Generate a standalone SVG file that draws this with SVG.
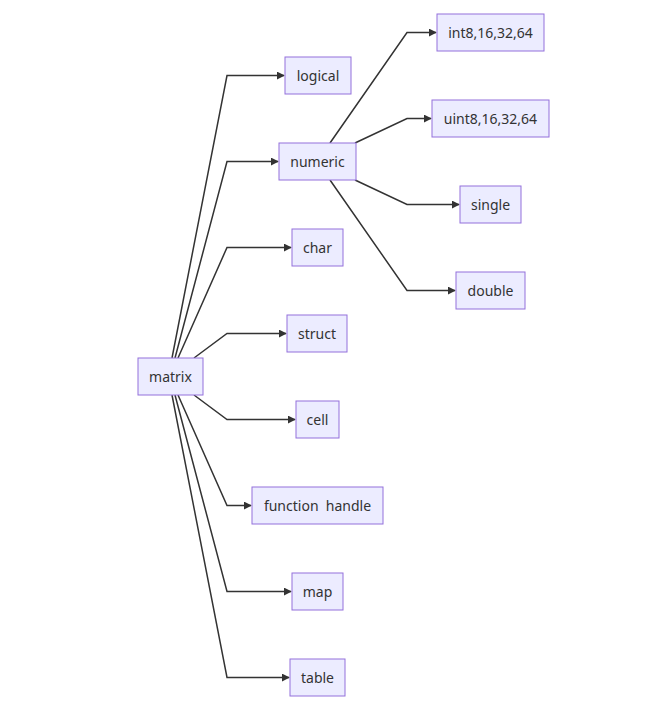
<svg xmlns="http://www.w3.org/2000/svg" width="652" height="708" viewBox="0 0 652 708">
<style>
.node rect{fill:#ECECFF;stroke:#9370DB;stroke-width:1}
.node text{font-family:"Noto Sans","Liberation Sans",sans-serif;font-size:14px;fill:#333;text-anchor:middle;dominant-baseline:central}
.edges path{fill:none;stroke:#333;stroke-width:1.5}
</style>
<defs>
<marker id="arr" viewBox="0 0 10 10" refX="9" refY="5" markerWidth="8" markerHeight="8" markerUnits="userSpaceOnUse" orient="auto">
<path d="M0,0 L10,5 L0,10 z" fill="#333"/>
</marker>
</defs>
<rect width="652" height="708" fill="#fff"/>
<g class="edges">
<path d="M172,358 L227,75.5 L284,75.5" marker-end="url(#arr)"/>
<path d="M175,358 L227,161.5 L278,161.5" marker-end="url(#arr)"/>
<path d="M178,358 L227,247.5 L291,247.5" marker-end="url(#arr)"/>
<path d="M194,358 L227,333.5 L286,333.5" marker-end="url(#arr)"/>
<path d="M194,395 L227,419.5 L295,419.5" marker-end="url(#arr)"/>
<path d="M178,395 L227,505.5 L251,505.5" marker-end="url(#arr)"/>
<path d="M175,395 L227,591.5 L291,591.5" marker-end="url(#arr)"/>
<path d="M172,395 L227,677.5 L289,677.5" marker-end="url(#arr)"/>
<path d="M330,143 L407,32.5 L436,32.5" marker-end="url(#arr)"/>
<path d="M355,143 L407,118.5 L431,118.5" marker-end="url(#arr)"/>
<path d="M355,180 L407,204.5 L459,204.5" marker-end="url(#arr)"/>
<path d="M330,180 L407,290.5 L455,290.5" marker-end="url(#arr)"/>
</g>
<g id="matrix" class="node"><rect x="138" y="358" width="65" height="37"/><text x="170.5" y="376.5">matrix</text></g>
<g id="logical" class="node"><rect x="285" y="57" width="66" height="37"/><text x="318" y="75.5">logical</text></g>
<g id="numeric" class="node"><rect x="279" y="143" width="77" height="37"/><text x="317.5" y="161.5">numeric</text></g>
<g id="char" class="node"><rect x="292" y="229" width="51" height="37"/><text x="317.5" y="247.5">char</text></g>
<g id="struct" class="node"><rect x="287" y="315" width="60" height="37"/><text x="317" y="333.5">struct</text></g>
<g id="cell" class="node"><rect x="296" y="401" width="43" height="37"/><text x="317.5" y="419.5">cell</text></g>
<g id="function_handle" class="node"><rect x="252" y="487" width="131" height="37"/><text x="317.5" y="505.5" xml:space="preserve">function  handle</text></g>
<g id="map" class="node"><rect x="292" y="573" width="51" height="37"/><text x="317.5" y="591.5">map</text></g>
<g id="table" class="node"><rect x="290" y="659" width="55" height="37"/><text x="317.5" y="677.5">table</text></g>
<g id="int" class="node"><rect x="437" y="14" width="107" height="37"/><text x="490.5" y="32.5">int8,16,32,64</text></g>
<g id="uint" class="node"><rect x="432" y="100" width="117" height="37"/><text x="490.5" y="118.5">uint8,16,32,64</text></g>
<g id="single" class="node"><rect x="460" y="186" width="61" height="37"/><text x="490.5" y="204.5">single</text></g>
<g id="double" class="node"><rect x="456" y="272" width="69" height="37"/><text x="490.5" y="290.5">double</text></g>
</svg>
